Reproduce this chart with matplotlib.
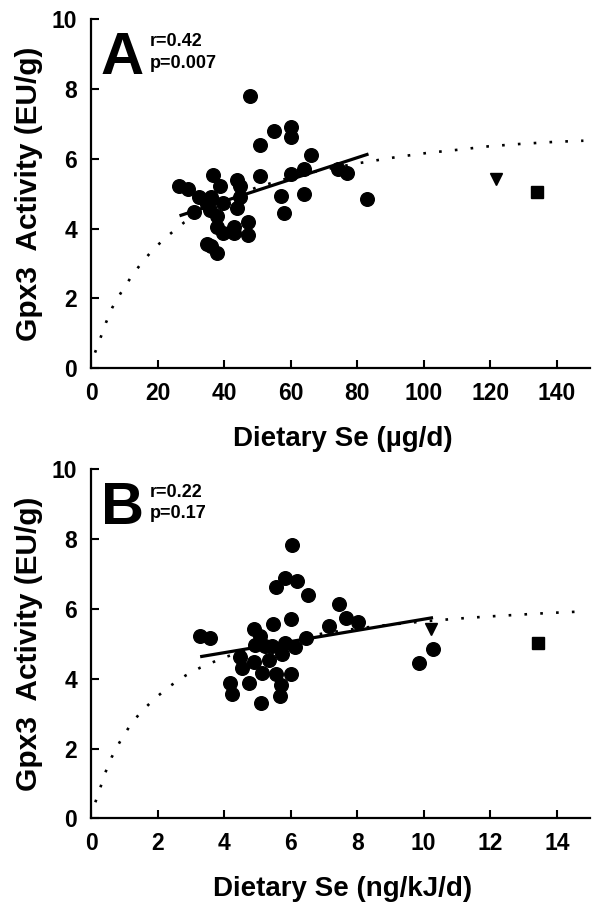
import numpy as np
import matplotlib
matplotlib.use('Agg')
import matplotlib.pyplot as plt

plt.rcParams['font.family'] = ['Liberation Sans', 'DejaVu Sans']
plt.rcParams['font.weight'] = 'bold'

# Panel A: Gpx3 activity vs dietary Se (ug/d)
a_x = [26.3, 29.2, 30.9, 32.6, 36.1, 35.0, 36.7, 38.7, 35.9, 37.9, 39.6, 37.9, 39.8,
       43.1, 43.1, 35.0, 36.1, 37.9, 44.0, 44.8, 44.8, 44.0, 47.1, 47.1, 47.9, 50.9,
       50.9, 54.9, 60.1, 60.1, 60.1, 57.0, 57.9, 63.9, 63.9, 66.0, 74.1, 77.0, 83.0]
a_y = [5.21, 5.13, 4.49, 4.92, 4.92, 4.71, 5.54, 5.23, 4.54, 4.35, 4.75, 4.06, 3.87,
       4.06, 3.87, 3.57, 3.51, 3.30, 5.40, 5.21, 4.92, 4.59, 4.18, 3.82, 7.81, 6.39,
       5.50, 6.79, 6.91, 6.63, 5.56, 4.94, 4.45, 5.71, 4.99, 6.12, 5.71, 5.59, 4.85]
a_tri = (121.8, 5.42)
a_sq = (134.0, 5.04)
a_fit_x = [26.6, 83.4]
a_fit_y = [4.37, 6.14]
a_curve_x = [1.2, 2.8, 4.5, 6.4, 8.9, 11.8, 15.1, 19.0, 23.4, 28.0, 40, 50, 60, 70, 80,
             91.7, 101, 110.2, 119.5, 129.3, 139.8, 148.0]
a_curve_y = [0.45, 0.86, 1.31, 1.74, 2.15, 2.58, 3.01, 3.44, 3.82, 4.18, 4.82, 5.19,
             5.47, 5.69, 5.87, 6.05, 6.17, 6.26, 6.36, 6.43, 6.49, 6.52]

# Panel B: Gpx3 activity vs dietary Se (ng/kJ/d)
b_x = [6.04, 5.82, 6.19, 5.57, 6.52, 7.45, 7.65, 8.02, 7.15, 6.01, 5.46, 3.28, 3.58,
       4.89, 5.07, 4.94, 5.24, 5.44, 5.84, 6.14, 6.45, 5.74, 4.49, 4.89, 5.34, 4.54,
       5.14, 5.57, 6.01, 4.19, 4.76, 5.72, 4.24, 5.69, 5.11, 9.86, 10.28]
b_y = [7.83, 6.89, 6.80, 6.62, 6.41, 6.13, 5.73, 5.62, 5.51, 5.70, 5.57, 5.22, 5.16,
       5.42, 5.22, 4.97, 4.94, 4.94, 5.01, 4.92, 5.16, 4.71, 4.61, 4.49, 4.54, 4.32,
       4.17, 4.13, 4.13, 3.89, 3.89, 3.82, 3.55, 3.50, 3.31, 4.46, 4.85]
b_tri = (10.23, 5.42)
b_sq = (13.42, 5.03)
b_fit_x = [3.28, 10.28]
b_fit_y = [4.63, 5.75]
b_curve_x = [0.13, 0.28, 0.43, 0.62, 0.86, 1.14, 1.49, 1.95, 2.39, 2.84, 3.29, 4, 5,
             6, 7, 8, 9, 10.1, 11.0, 11.9, 12.8, 13.7, 14.63]
b_curve_y = [0.46, 0.88, 1.31, 1.75, 2.18, 2.61, 3.04, 3.46, 3.80, 4.09, 4.32, 4.61,
             4.90, 5.13, 5.30, 5.44, 5.55, 5.65, 5.72, 5.78, 5.83, 5.88, 5.92]

fig = plt.figure(figsize=(6.02, 9.13), dpi=100)
axA = fig.add_axes([0.1512, 0.5966, 0.829, 0.3823])
axB = fig.add_axes([0.1512, 0.1037, 0.829, 0.3823])

panels = [
    (axA, a_x, a_y, a_tri, a_sq, a_fit_x, a_fit_y, a_curve_x, a_curve_y,
     150, np.arange(0, 141, 20), 'Dietary Se (\u00b5g/d)', 'A', 'r=0.42', 'p=0.007'),
    (axB, b_x, b_y, b_tri, b_sq, b_fit_x, b_fit_y, b_curve_x, b_curve_y,
     15, np.arange(0, 15, 2), 'Dietary Se (ng/kJ/d)', 'B', 'r=0.22', 'p=0.17'),
]

for (ax, x, y, tri, sq, fx, fy, cx, cy, xmax, xt, xlab, letter, rtxt, ptxt) in panels:
    ax.plot(cx, cy, color='black', lw=1.9, linestyle=(0, (1, 5)), zorder=1)
    ax.plot(fx, fy, color='black', lw=2.3, solid_capstyle='butt', zorder=3)
    ax.plot(x, y, 'o', color='black', ms=9.8, zorder=2)
    ax.plot([tri[0]], [tri[1]], 'v', color='black', ms=9, zorder=2)
    ax.plot([sq[0]], [sq[1]], 's', color='black', ms=8, zorder=2)

    ax.set_xlim(0, xmax)
    ax.set_ylim(0, 10)
    ax.set_xticks(xt)
    ax.set_yticks(np.arange(0, 11, 2))
    for s in ['top', 'right']:
        ax.spines[s].set_visible(False)
    for s in ['left', 'bottom']:
        ax.spines[s].set_linewidth(1.6)
    ax.tick_params(direction='in', length=5.5, width=1.5, labelsize=16.5, pad=10)
    for lab in ax.get_xticklabels() + ax.get_yticklabels():
        lab.set_fontweight('bold')

    ax.set_xlabel(xlab, fontsize=20, fontweight='bold')
    ax.xaxis.set_label_coords(0.505, -0.165)
    ax.set_ylabel('Gpx3  Activity (EU/g)', fontsize=21.5, fontweight='bold')
    ax.yaxis.set_label_coords(-0.096, 0.5)

    ax.text(0.02, 0.843, letter, transform=ax.transAxes, fontsize=43,
            fontweight='bold', va='baseline', ha='left')
    ax.text(0.118, 0.922, rtxt, transform=ax.transAxes, fontsize=13,
            fontweight='bold', va='baseline', ha='left')
    ax.text(0.118, 0.860, ptxt, transform=ax.transAxes, fontsize=13,
            fontweight='bold', va='baseline', ha='left')

fig.savefig('out.png', dpi=100)
